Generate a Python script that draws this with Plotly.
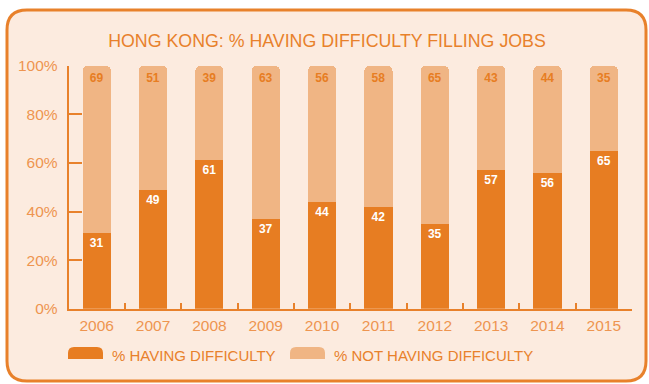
import plotly.graph_objects as go

years = ["2006", "2007", "2008", "2009", "2010", "2011", "2012", "2013", "2014", "2015"]
having = [31, 49, 61, 37, 44, 42, 35, 57, 56, 65]
not_having = [69, 51, 39, 63, 56, 58, 65, 43, 44, 35]
y_ticks = [0, 20, 40, 60, 80, 100]
y_tick_labels = ["0%", "20%", "40%", "60%", "80%", "100%"]

W, H = 649, 384
DARK = "#E77D22"
LIGHT = "#F0B584"
PANEL = "#FCEBDF"
ORANGE = "#E8812B"
TICK_TXT = "#EE9550"
FONT = "Liberation Sans"


def px(x):
    return x / W


def py(y):
    return 1 - y / H


fig = go.Figure()
fig.add_trace(go.Bar(
    x=years, y=having, name="% HAVING DIFFICULTY",
    marker=dict(color=DARK, line=dict(width=0)),
    text=[str(v) for v in having], textposition="inside", insidetextanchor="end",
    textfont=dict(color="white", size=12, family=FONT, weight="bold"),
    constraintext="none", width=0.5,
))
fig.add_trace(go.Bar(
    x=years, y=not_having, name="% NOT HAVING DIFFICULTY",
    marker=dict(color=LIGHT, line=dict(width=0)),
    text=[str(v) for v in not_having], textposition="inside", insidetextanchor="end",
    textfont=dict(color=DARK, size=12, family=FONT, weight="bold"),
    constraintext="none", width=0.5,
))

# rounded panel behind the chart
x0, y0, x1, y1, r = 7, 10, 646, 381, 20
panel_path = (
    f"M {px(x0 + r)} {py(y0)} L {px(x1 - r)} {py(y0)} "
    f"Q {px(x1)} {py(y0)} {px(x1)} {py(y0 + r)} "
    f"L {px(x1)} {py(y1 - r)} Q {px(x1)} {py(y1)} {px(x1 - r)} {py(y1)} "
    f"L {px(x0 + r)} {py(y1)} Q {px(x0)} {py(y1)} {px(x0)} {py(y1 - r)} "
    f"L {px(x0)} {py(y0 + r)} Q {px(x0)} {py(y0)} {px(x0 + r)} {py(y0)} Z"
)
shapes = [dict(type="path", path=panel_path, xref="paper", yref="paper",
               fillcolor=PANEL, line=dict(color=ORANGE, width=3), layer="below")]


def swatch(xa, ya, w, h, color):
    rr = 6
    p = (f"M {px(xa)} {py(ya + h)} L {px(xa)} {py(ya + rr)} "
         f"Q {px(xa)} {py(ya)} {px(xa + rr)} {py(ya)} "
         f"L {px(xa + w - rr)} {py(ya)} Q {px(xa + w)} {py(ya)} {px(xa + w)} {py(ya + rr)} "
         f"L {px(xa + w)} {py(ya + h)} Z")
    return dict(type="path", path=p, xref="paper", yref="paper",
                fillcolor=color, line=dict(width=0))


shapes.append(swatch(68, 347, 35, 12, DARK))
shapes.append(swatch(290, 347, 35, 12, LIGHT))

annotations = [
    dict(text="% HAVING DIFFICULTY", x=px(110), y=py(355), xref="paper", yref="paper",
         xanchor="left", yanchor="middle", showarrow=False,
         font=dict(family=FONT, size=15, color=ORANGE)),
    dict(text="% NOT HAVING DIFFICULTY", x=px(332), y=py(355), xref="paper", yref="paper",
         xanchor="left", yanchor="middle", showarrow=False,
         font=dict(family=FONT, size=15, color=ORANGE)),
]

fig.update_layout(
    width=W, height=H, autosize=False,
    margin=dict(l=0, r=0, t=0, b=0, pad=0),
    paper_bgcolor="white", plot_bgcolor="rgba(0,0,0,0)",
    barmode="stack", bargap=0.5, barcornerradius=5,
    showlegend=False,
    title=dict(text="HONG KONG: % HAVING DIFFICULTY FILLING JOBS",
               x=px(327), xanchor="center", y=py(41), yanchor="middle",
               font=dict(family=FONT, size=17.8, color=ORANGE)),
    xaxis=dict(domain=[px(68.5), px(632)], range=[-0.5, 9.5], automargin=False,
               showline=True, linecolor=ORANGE, linewidth=1.5,
               ticks="inside", ticklen=6, tickcolor=ORANGE, tickwidth=1.5,
               tickson="boundaries", showgrid=False, zeroline=False,
               ticklabelstandoff=2,
               tickfont=dict(family=FONT, size=15.5, color=TICK_TXT)),
    yaxis=dict(domain=[py(308.7), py(65.7)], range=[0, 100], automargin=False,
               tickvals=y_ticks, ticktext=y_tick_labels,
               showline=True, linecolor=ORANGE, linewidth=1.5,
               ticks="inside", ticklen=14, tickcolor=ORANGE, tickwidth=1.5,
               showgrid=False, zeroline=False, ticklabelstandoff=6,
               tickfont=dict(family=FONT, size=15.5, color=TICK_TXT)),
    shapes=shapes, annotations=annotations,
)

fig.write_html("out.html")
